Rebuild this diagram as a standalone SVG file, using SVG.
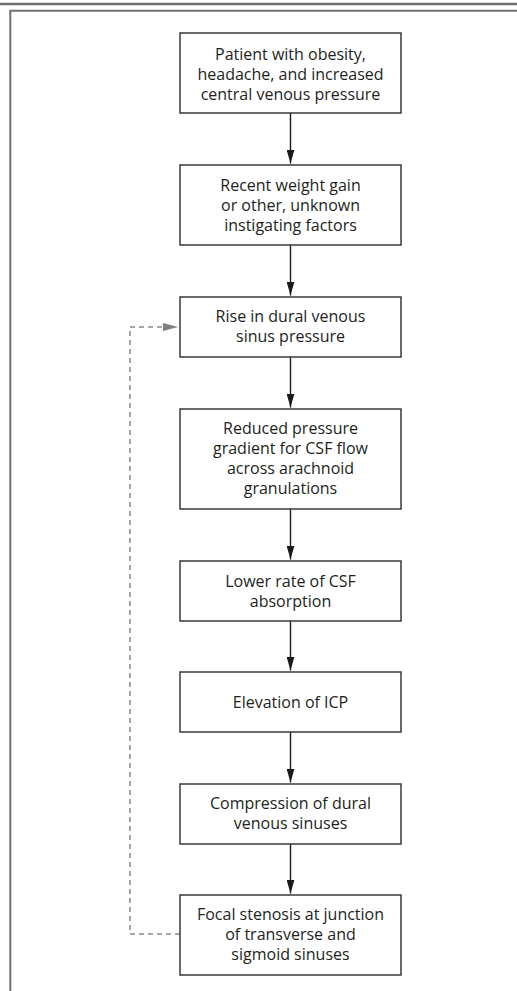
<svg xmlns="http://www.w3.org/2000/svg" width="517" height="991" viewBox="0 0 517 991">
<style>
.box{fill:#fff;stroke:#3a3a3a;stroke-width:1.5}
.t{font-family:"Open Sans","Noto Sans",sans-serif;font-size:16px;fill:#231f20;text-anchor:middle}
.arr{stroke:#1a1a1a;stroke-width:1.4;fill:none;marker-end:url(#ah)}
.dash{stroke:#8a8a8a;stroke-width:1.5;fill:none;stroke-dasharray:5,4}
</style>
<defs>
<marker id="ah" markerUnits="userSpaceOnUse" markerWidth="14" markerHeight="8" refX="14" refY="4" orient="auto">
<path d="M0,0 L14,4 L0,8 z" fill="#1a1a1a"/>
</marker>
<marker id="ahg" markerUnits="userSpaceOnUse" markerWidth="15" markerHeight="8" refX="15" refY="4" orient="auto">
<path d="M0,0 L15,4 L0,8 z" fill="#808080"/>
</marker>
</defs>
<rect width="517" height="991" fill="#fff"/>
<g id="frame">
<line x1="0" y1="4" x2="517" y2="4" stroke="#707070" stroke-width="2.5"/>
<path d="M10.3,991 V10.8 H517" stroke="#707070" stroke-width="2" fill="none"/>
</g>
<g id="connectors">
<line class="arr" x1="290.5" y1="113" x2="290.5" y2="163.5"/>
<line class="arr" x1="290.5" y1="245" x2="290.5" y2="295.5"/>
<line class="arr" x1="290.5" y1="357" x2="290.5" y2="407.5"/>
<line class="arr" x1="290.5" y1="509" x2="290.5" y2="559.5"/>
<line class="arr" x1="290.5" y1="621" x2="290.5" y2="670.5"/>
<line class="arr" x1="290.5" y1="732" x2="290.5" y2="782.5"/>
<line class="arr" x1="290.5" y1="844" x2="290.5" y2="893.5"/>
<path class="dash" d="M180,934 H130 V327 H165"/>
<line x1="163" y1="327" x2="178" y2="327" stroke="#808080" stroke-width="0.1" marker-end="url(#ahg)"/>
</g>
<g id="n1">
<rect class="box" x="180" y="33" width="221" height="80"/>
<text class="t" x="290.5" y="60">Patient with obesity,</text>
<text class="t" x="290.5" y="80">headache, and increased</text>
<text class="t" x="290.5" y="100">central venous pressure</text>
</g>
<g id="n2">
<rect class="box" x="180" y="165" width="221" height="80"/>
<text class="t" x="290.5" y="190.5">Recent weight gain</text>
<text class="t" x="290.5" y="210.5">or other, unknown</text>
<text class="t" x="290.5" y="230.5">instigating factors</text>
</g>
<g id="n3">
<rect class="box" x="180" y="297" width="221" height="60"/>
<text class="t" x="290.5" y="322">Rise in dural venous</text>
<text class="t" x="290.5" y="342">sinus pressure</text>
</g>
<g id="n4">
<rect class="box" x="180" y="409" width="221" height="100"/>
<text class="t" x="290.5" y="434">Reduced pressure</text>
<text class="t" x="290.5" y="454">gradient for CSF flow</text>
<text class="t" x="290.5" y="474">across arachnoid</text>
<text class="t" x="290.5" y="494">granulations</text>
</g>
<g id="n5">
<rect class="box" x="180" y="561" width="221" height="60"/>
<text class="t" x="290.5" y="586.5">Lower rate of CSF</text>
<text class="t" x="290.5" y="606.5">absorption</text>
</g>
<g id="n6">
<rect class="box" x="180" y="672" width="221" height="60"/>
<text class="t" x="290.5" y="707.5">Elevation of ICP</text>
</g>
<g id="n7">
<rect class="box" x="180" y="784" width="221" height="60"/>
<text class="t" x="290.5" y="808.5">Compression of dural</text>
<text class="t" x="290.5" y="828.5">venous sinuses</text>
</g>
<g id="n8">
<rect class="box" x="180" y="895" width="221" height="80"/>
<text class="t" x="290.5" y="919.5">Focal stenosis at junction</text>
<text class="t" x="290.5" y="939.5">of transverse and</text>
<text class="t" x="290.5" y="959.5">sigmoid sinuses</text>
</g>
</svg>
